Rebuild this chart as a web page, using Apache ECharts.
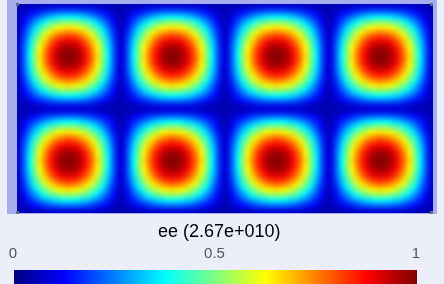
<!DOCTYPE html>
<html><head><meta charset="utf-8">
<script src="https://cdn.jsdelivr.net/npm/echarts@6/dist/echarts.min.js"></script>
<style>
html,body{margin:0;padding:0;background:#eceef9;}
#frame{position:absolute;left:7px;top:0;width:430px;height:214px;background:#a7aef0;}
#clip{position:absolute;left:17px;top:4px;width:416px;height:209px;overflow:hidden;}
#heat{position:absolute;left:-6px;top:-6px;width:428px;height:221px;filter:blur(2px);}
#c{position:absolute;left:0;top:0;width:444px;height:284px;}
</style>
</head><body>
<div id="frame"></div>
<div id="clip"><div id="heat"></div></div>
<div id="c"></div>
<script>
// One blob tile (20 x 20 cells) of the normalised field
var tileRows = [
[0.01,0.02,0.03,0.04,0.05,0.06,0.07,0.07,0.08,0.08,0.08,0.08,0.07,0.07,0.06,0.05,0.04,0.03,0.02,0.01],
[0.02,0.05,0.09,0.12,0.15,0.18,0.20,0.22,0.23,0.23,0.23,0.23,0.22,0.20,0.18,0.15,0.12,0.09,0.05,0.02],
[0.03,0.09,0.15,0.20,0.25,0.29,0.33,0.35,0.37,0.38,0.38,0.37,0.35,0.33,0.29,0.25,0.20,0.15,0.09,0.03],
[0.04,0.12,0.20,0.27,0.34,0.40,0.45,0.48,0.51,0.52,0.52,0.51,0.48,0.45,0.40,0.34,0.27,0.20,0.12,0.04],
[0.05,0.15,0.25,0.34,0.42,0.49,0.55,0.60,0.63,0.65,0.65,0.63,0.60,0.55,0.49,0.42,0.34,0.25,0.15,0.05],
[0.06,0.18,0.29,0.40,0.49,0.58,0.65,0.70,0.74,0.76,0.76,0.74,0.70,0.65,0.58,0.49,0.40,0.29,0.18,0.06],
[0.07,0.20,0.33,0.45,0.55,0.65,0.73,0.79,0.83,0.85,0.85,0.83,0.79,0.73,0.65,0.55,0.45,0.33,0.20,0.07],
[0.07,0.22,0.35,0.48,0.60,0.70,0.79,0.85,0.90,0.92,0.92,0.90,0.85,0.79,0.70,0.60,0.48,0.35,0.22,0.07],
[0.08,0.23,0.37,0.51,0.63,0.74,0.83,0.90,0.95,0.97,0.97,0.95,0.90,0.83,0.74,0.63,0.51,0.37,0.23,0.08],
[0.08,0.23,0.38,0.52,0.65,0.76,0.85,0.92,0.97,0.99,0.99,0.97,0.92,0.85,0.76,0.65,0.52,0.38,0.23,0.08],
[0.08,0.23,0.38,0.52,0.65,0.76,0.85,0.92,0.97,0.99,0.99,0.97,0.92,0.85,0.76,0.65,0.52,0.38,0.23,0.08],
[0.08,0.23,0.37,0.51,0.63,0.74,0.83,0.90,0.95,0.97,0.97,0.95,0.90,0.83,0.74,0.63,0.51,0.37,0.23,0.08],
[0.07,0.22,0.35,0.48,0.60,0.70,0.79,0.85,0.90,0.92,0.92,0.90,0.85,0.79,0.70,0.60,0.48,0.35,0.22,0.07],
[0.07,0.20,0.33,0.45,0.55,0.65,0.73,0.79,0.83,0.85,0.85,0.83,0.79,0.73,0.65,0.55,0.45,0.33,0.20,0.07],
[0.06,0.18,0.29,0.40,0.49,0.58,0.65,0.70,0.74,0.76,0.76,0.74,0.70,0.65,0.58,0.49,0.40,0.29,0.18,0.06],
[0.05,0.15,0.25,0.34,0.42,0.49,0.55,0.60,0.63,0.65,0.65,0.63,0.60,0.55,0.49,0.42,0.34,0.25,0.15,0.05],
[0.04,0.12,0.20,0.27,0.34,0.40,0.45,0.48,0.51,0.52,0.52,0.51,0.48,0.45,0.40,0.34,0.27,0.20,0.12,0.04],
[0.03,0.09,0.15,0.20,0.25,0.29,0.33,0.35,0.37,0.38,0.38,0.37,0.35,0.33,0.29,0.25,0.20,0.15,0.09,0.03],
[0.02,0.05,0.09,0.12,0.15,0.18,0.20,0.22,0.23,0.23,0.23,0.23,0.22,0.20,0.18,0.15,0.12,0.09,0.05,0.02],
[0.01,0.02,0.03,0.04,0.05,0.06,0.07,0.07,0.08,0.08,0.08,0.08,0.07,0.07,0.06,0.05,0.04,0.03,0.02,0.01]
];
var tilesAcross = 4;
var tilesDown = 2;
var titleText = 'ee (2.67e+010)';
var colorbarTicks = [0, 0.5, 1];
var jetColors = ['#0000a8','#0008ff','#007fff','#00ffff','#7fff7f','#ffff00','#ff7f00','#ff0000','#800000'];

var n = tileRows.length;
var nx = n * tilesAcross, ny = n * tilesDown;
var xCats = [], yCats = [], data = [];
for (var i = 0; i < nx; i++) xCats.push(i);
for (var j = 0; j < ny; j++) yCats.push(j);
for (var ty = 0; ty < tilesDown; ty++)
  for (var tx = 0; tx < tilesAcross; tx++)
    for (var r = 0; r < n; r++)
      for (var c = 0; c < n; c++)
        data.push([tx * n + c, ty * n + r, tileRows[r][c]]);

// heat field layer
var heat = echarts.init(document.getElementById('heat'), null, {renderer: 'canvas'});
heat.setOption({
  animation: false,
  backgroundColor: '#0000b0',
  grid: {left: 6, top: 6, width: 416, height: 209, show: false},
  xAxis: {type: 'category', data: xCats, show: false},
  yAxis: {type: 'category', data: yCats, show: false},
  visualMap: {type: 'continuous', min: 0, max: 1, show: false, inRange: {color: jetColors}},
  series: [{type: 'heatmap', data: data, itemStyle: {borderWidth: 0}, emphasis: {disabled: true}, progressive: 0}]
});

// title, colour bar, labels, corner markers
var barColors = ['#00007f','#0000ff','#007fff','#00ffff','#7fff7f','#ffff00','#ff7f00','#ff0000','#7f0000'];
var stops = barColors.map(function (col, k) { return {offset: k / (barColors.length - 1), color: col}; });
var dot = {type: 'rect', z: 100, style: {fill: '#5d6b7a'}};
var chart = echarts.init(document.getElementById('c'), null, {renderer: 'canvas'});
chart.setOption({
  animation: false,
  backgroundColor: 'transparent',
  graphic: [
    Object.assign({shape: {x: 16, y: 3, width: 3, height: 3}}, dot),
    Object.assign({shape: {x: 430, y: 3, width: 3, height: 3}}, dot),
    Object.assign({shape: {x: 16, y: 211, width: 3, height: 3}}, dot),
    Object.assign({shape: {x: 430, y: 211, width: 3, height: 3}}, dot),
    {type: 'rect', shape: {x: 14, y: 270, width: 403, height: 14},
     style: {fill: new echarts.graphic.LinearGradient(0, 0, 1, 0, stops)}}
  ],
  title: {
    text: titleText, left: 153, top: 218,
    textStyle: {fontFamily: 'Liberation Sans, Arial, sans-serif', fontSize: 18, fontWeight: 'normal', color: '#000'}
  },
  grid: {left: 13, top: 270, width: 403, height: 14, show: false},
  xAxis: {type: 'value', min: 0, max: 1, interval: 0.5, position: 'top',
     axisLine: {show: false}, axisTick: {show: false}, splitLine: {show: false},
     axisLabel: {color: '#555', fontSize: 15, fontFamily: 'Liberation Sans, Arial, sans-serif', margin: 9,
       formatter: function (v) { return colorbarTicks.indexOf(v) >= 0 ? String(v) : ''; }}},
  yAxis: {type: 'value', show: false},
  series: []
});
</script></body></html>
